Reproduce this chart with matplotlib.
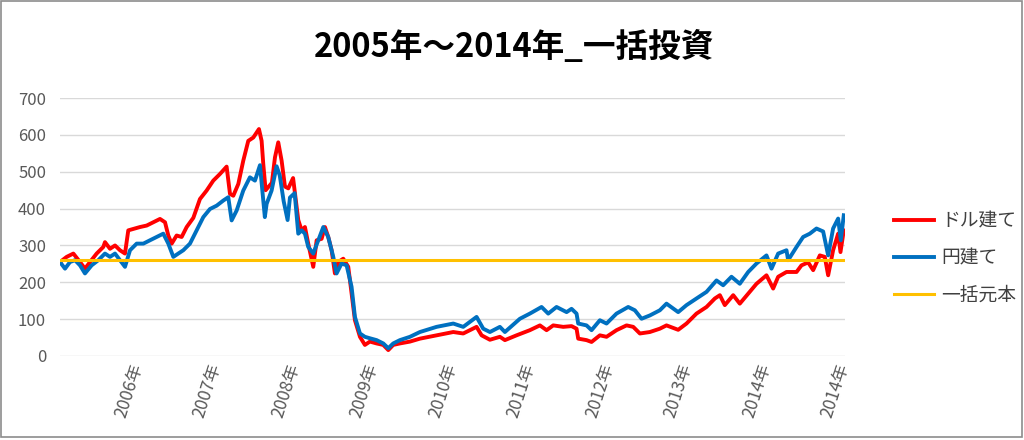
import matplotlib
matplotlib.use('Agg')
import matplotlib.pyplot as plt
import matplotlib.transforms as mtransforms
from matplotlib.patches import Rectangle

plt.rcParams['font.family'] = ['Noto Sans CJK JP', 'DejaVu Sans']

# Values (x = years since start of 2005)
usd_t = [0.000, 0.085, 0.170, 0.255, 0.318, 0.382, 0.467, 0.552, 0.573, 0.637, 0.701, 0.764, 0.828, 0.870,
         0.934, 1.019, 1.104, 1.189, 1.274, 1.338, 1.380, 1.423, 1.486, 1.550, 1.614, 1.699, 1.783, 1.868,
         1.953, 2.038, 2.123, 2.166, 2.208, 2.272, 2.335, 2.399, 2.463, 2.535, 2.569, 2.590, 2.620, 2.700,
         2.739, 2.781, 2.824, 2.866, 2.909, 2.970, 3.036, 3.079, 3.121, 3.163, 3.227, 3.270, 3.333, 3.376,
         3.418, 3.461, 3.503, 3.546, 3.609, 3.673, 3.715, 3.758, 3.822, 3.885, 3.949, 4.034, 4.119, 4.183,
         4.246, 4.331, 4.459, 4.586, 4.798, 5.011, 5.138, 5.308, 5.372, 5.478, 5.605, 5.669, 5.817, 5.987,
         6.115, 6.200, 6.285, 6.412, 6.518, 6.582, 6.603, 6.709, 6.773, 6.879, 6.964, 7.091, 7.219, 7.304,
         7.389, 7.516, 7.643, 7.728, 7.877, 7.983, 8.110, 8.238, 8.344, 8.408, 8.471, 8.578, 8.662, 8.769,
         8.875, 9.002, 9.087, 9.151, 9.257, 9.385, 9.448, 9.533, 9.597, 9.682, 9.745, 9.788, 9.851, 9.915,
         9.945, 9.987]
usd_v = [255, 269, 278, 255, 237, 255, 278, 296, 309, 291, 300, 287, 278, 341,
         345, 350, 354, 363, 372, 363, 327, 305, 327, 323, 350, 375, 426, 449,
         476, 494, 514, 440, 435, 467, 530, 584, 593, 616, 584, 521, 450, 470,
         539, 580, 530, 460, 455, 483, 369, 341, 350, 305, 242, 314, 318, 350,
         323, 287, 224, 255, 264, 242, 170, 97, 52, 30, 39, 34, 30, 16,
         30, 34, 39, 47, 56, 65, 61, 79, 56, 44, 52, 43, 56, 70,
         83, 70, 83, 79, 81, 74, 47, 43, 38, 56, 52, 70, 83, 79,
         61, 65, 74, 83, 71, 88, 115, 133, 156, 165, 138, 165, 142, 169,
         196, 219, 183, 215, 228, 228, 246, 254, 233, 273, 269, 219, 287, 332,
         282, 341]

jpy_t = [0.000, 0.064, 0.127, 0.191, 0.255, 0.318, 0.403, 0.488, 0.573, 0.637, 0.701, 0.764, 0.828, 0.892,
         0.977, 1.062, 1.146, 1.231, 1.316, 1.380, 1.444, 1.507, 1.571, 1.656, 1.741, 1.826, 1.911, 1.996,
         2.081, 2.144, 2.187, 2.251, 2.335, 2.420, 2.484, 2.548, 2.610, 2.633, 2.696, 2.760, 2.800, 2.850,
         2.900, 2.930, 2.990, 3.036, 3.079, 3.121, 3.163, 3.227, 3.291, 3.355, 3.418, 3.482, 3.524, 3.588,
         3.652, 3.715, 3.758, 3.822, 3.885, 3.949, 4.034, 4.119, 4.183, 4.246, 4.331, 4.459, 4.586, 4.798,
         5.011, 5.138, 5.308, 5.393, 5.478, 5.605, 5.669, 5.860, 5.987, 6.136, 6.221, 6.327, 6.455, 6.518,
         6.582, 6.603, 6.709, 6.773, 6.879, 6.964, 7.091, 7.240, 7.325, 7.410, 7.516, 7.643, 7.728, 7.877,
         7.983, 8.110, 8.238, 8.365, 8.450, 8.556, 8.662, 8.769, 8.875, 9.002, 9.066, 9.151, 9.257, 9.278,
         9.385, 9.469, 9.554, 9.639, 9.724, 9.788, 9.851, 9.915, 9.949, 9.987]
jpy_v = [255, 237, 255, 260, 246, 224, 246, 260, 278, 269, 278, 260, 242, 287,
         305, 305, 314, 323, 332, 305, 269, 278, 287, 305, 341, 377, 399, 408,
         422, 431, 368, 395, 449, 485, 476, 518, 377, 413, 449, 515, 490, 420,
         369, 430, 442, 332, 341, 332, 296, 278, 314, 350, 323, 269, 224, 251,
         246, 188, 106, 61, 52, 48, 43, 34, 21, 34, 43, 52, 65, 79,
         88, 79, 106, 74, 65, 79, 65, 101, 115, 133, 115, 133, 119, 128,
         115, 88, 83, 70, 97, 88, 115, 133, 124, 101, 110, 124, 142, 119,
         138, 156, 174, 205, 192, 215, 196, 228, 251, 273, 237, 278, 287, 260,
         296, 323, 332, 346, 338, 273, 346, 373, 314, 382]

principal = 260
tick_pos = [1, 2, 3, 4, 5, 6, 7, 8, 9, 10]
tick_labels = ['2006年', '2007年', '2008年', '2009年', '2010年', '2011年', '2012年', '2013年', '2014年', '2014年']

fig = plt.figure(figsize=(10.24, 4.4), dpi=100)
ax = fig.add_axes([0.0586, 0.191, 0.7664, 0.586])

ax.plot(usd_t, usd_v, color='#FF0000', lw=2.8, label='ドル建て')
ax.plot(jpy_t, jpy_v, color='#0070C0', lw=2.8, label='円建て')
ax.plot([0, 10], [principal, principal], color='#FFC000', lw=2.2, label='一括元本')

ax.set_xlim(0, 10)
ax.set_ylim(0, 700)
ax.set_yticks(range(0, 701, 100))
ax.set_xticks(tick_pos)
ax.set_xticklabels(tick_labels, rotation=72, ha='right', va='top')
ax.grid(axis='y', color='#D9D9D9', lw=1)
ax.set_axisbelow(True)
for s in ax.spines.values():
    s.set_visible(False)
ax.tick_params(length=0, colors='#595959', labelsize=12)
ax.tick_params(axis='x', labelsize=12.5, pad=4)
ax.tick_params(axis='y', pad=10)

# nudge the rotated year labels to the right, as in the original
shift = mtransforms.ScaledTranslation(8 / 100, 0, fig.dpi_scale_trans)
for lbl in ax.get_xticklabels():
    lbl.set_transform(lbl.get_transform() + shift)

fig.text(0.502, 0.893, '2005年～2014年_一括投資', ha='center', va='center',
         fontsize=23.5, fontweight='bold')

fig.legend(loc='center left', bbox_to_anchor=(0.857, 0.414), frameon=False,
           fontsize=13.5, handlelength=2.1, handletextpad=0.4, labelspacing=0.85,
           labelcolor='#404040')

# outer chart border
fig.patches.append(Rectangle((0.001, 0.006), 0.997, 0.992, transform=fig.transFigure,
                             fill=False, edgecolor='#8C8C8C', lw=1.2))

fig.savefig('out.png', dpi=100)
